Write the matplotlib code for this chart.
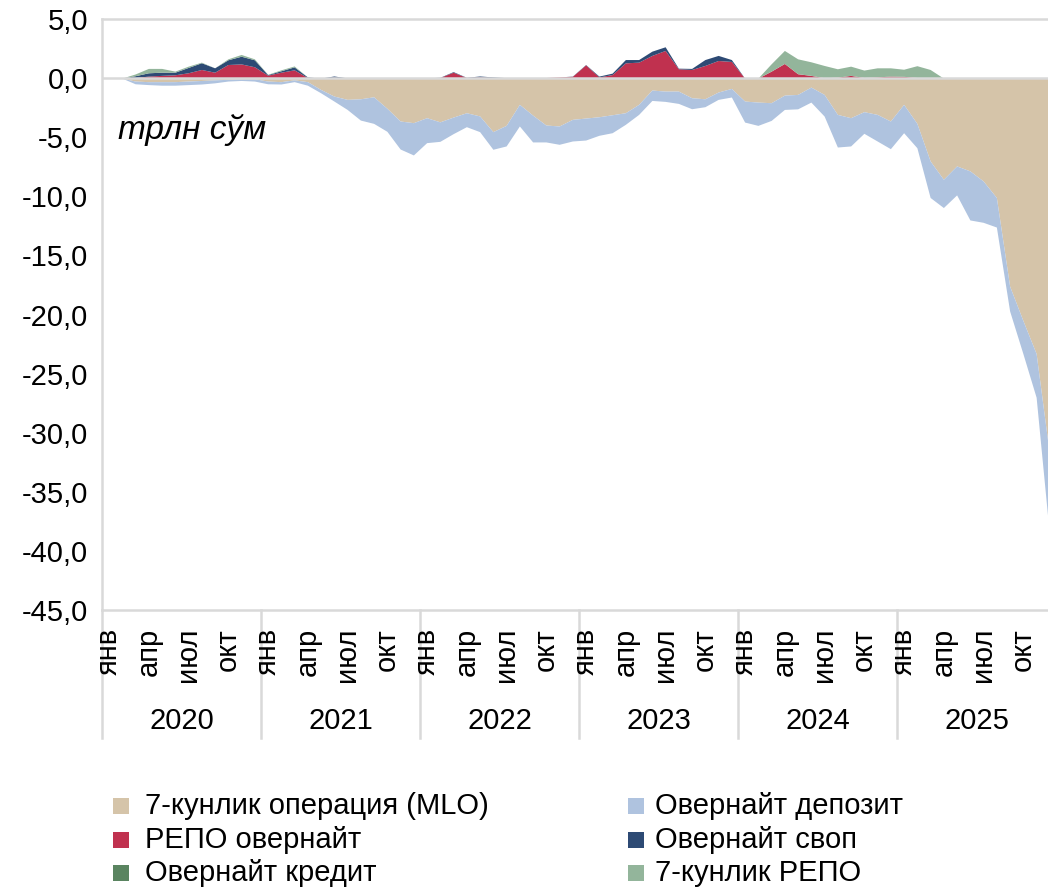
import numpy as np
import matplotlib
matplotlib.use('Agg')
import matplotlib.pyplot as plt
from matplotlib.patches import Rectangle
from matplotlib.transforms import blended_transform_factory

plt.rcParams['font.family'] = ['Liberation Sans', 'DejaVu Sans']

years = ['2020', '2021', '2022', '2023', '2024', '2025']
month_labels = ['янв', 'апр', 'июл', 'окт']
month_label_idx = [0, 3, 6, 9]
yticks = [5, 0, -5, -10, -15, -20, -25, -30, -35, -40, -45]
unit_label = 'трлн сўм'

series_names = ['7-кунлик операция (MLO)', 'Овернайт депозит', 'РЕПО овернайт',
                'Овернайт своп', 'Овернайт кредит', '7-кунлик РЕПО']

# monthly values, trillion soum (Jan 2020 .. Dec 2025)
mlo = [0, 0, -0.25, -0.3, -0.3, -0.3, -0.25, -0.2, -0.15, -0.1, -0.05, -0.05,
       -0.25, -0.3, -0.15, -0.3, -0.96, -1.52, -1.8, -1.75, -1.58, -2.55, -3.63, -3.77,
       -3.35, -3.7, -3.3, -2.93, -3.2, -4.53, -4.0, -2.22, -3.13, -3.97, -4.05, -3.49,
       -3.38, -3.27, -3.1, -2.93, -2.22, -1.01, -1.1, -1.1, -1.66, -1.75, -1.18, -0.87,
       -1.94, -2.03, -2.08, -1.44, -1.38, -0.76, -1.38, -3.07, -3.35, -2.84, -3.07, -3.63,
       -2.22, -3.83, -7.01, -8.56, -7.43, -7.85, -8.7, -10.1, -17.6, -20.5, -23.3, -31.8]

deposit = [0, 0, -0.23, -0.25, -0.3, -0.3, -0.3, -0.3, -0.25, -0.15, -0.15, -0.2,
           -0.23, -0.2, -0.15, -0.3, -0.28, -0.42, -0.85, -1.8, -2.25, -1.95, -2.37, -2.73,
           -2.11, -1.65, -1.4, -1.18, -1.33, -1.49, -1.74, -1.83, -2.27, -1.43, -1.55, -1.83,
           -1.86, -1.57, -1.52, -0.98, -0.85, -0.88, -0.87, -1.04, -0.93, -0.67, -0.62, -0.73,
           -1.78, -1.97, -1.5, -1.21, -1.22, -1.27, -1.83, -2.76, -2.39, -1.83, -2.25, -2.34,
           -2.4, -2.06, -3.09, -2.39, -2.45, -4.15, -3.5, -2.5, -2.1, -2.8, -3.7, -6.8]

repo_on = [0, 0, 0.05, 0.17, 0.23, 0.28, 0.45, 0.73, 0.5, 1.15, 1.2, 0.96,
           0.25, 0.5, 0.7, 0.05, 0, 0.08, 0.02, 0, 0, 0, 0, 0,
           0.02, 0.05, 0.5, 0.05, 0.1, 0.05, 0.02, 0, 0.02, 0.05, 0.1, 0.15,
           1.12, 0.1, 0.3, 1.29, 1.35, 1.92, 2.34, 0.79, 0.73, 1.07, 1.49, 1.41,
           0, 0, 0.59, 1.24, 0.37, 0.23, 0.03, 0.08, 0.23, 0.05, 0.1, 0.17,
           0.15, 0.05, 0, 0, 0.02, 0.02, 0, 0.02, 0.02, 0, 0, 0]

swap_on = [0, 0, 0.15, 0.28, 0.27, 0.22, 0.45, 0.57, 0.37, 0.4, 0.65, 0.59,
           0.05, 0.12, 0.25, 0.05, 0, 0.1, 0, 0, 0, 0, 0, 0,
           0, 0.02, 0.05, 0.02, 0.08, 0.05, 0.02, 0, 0, 0, 0, 0.02,
           0.03, 0.07, 0.12, 0.28, 0.22, 0.36, 0.31, 0.05, 0.09, 0.5, 0.43, 0.16,
           0, 0, 0, 0, 0, 0, 0, 0, 0, 0, 0, 0,
           0, 0, 0, 0, 0, 0, 0, 0, 0, 0, 0, 0]

credit_on = [0, 0, 0, 0, 0, 0, 0, 0, 0, 0, 0, 0,
             0, 0, 0, 0, 0, 0, 0, 0, 0, 0, 0, 0,
             0, 0, 0, 0, 0, 0, 0, 0, 0, 0, 0, 0,
             0, 0, 0, 0, 0, 0, 0, 0, 0, 0, 0, 0,
             0, 0, 0, 0, 0, 0, 0, 0, 0, 0, 0, 0,
             0, 0, 0, 0, 0, 0, 0, 0, 0, 0, 0, 0]

repo_7d = [0, 0, 0.15, 0.37, 0.32, 0.09, 0.11, 0.05, 0, 0.08, 0.15, 0.08,
           0.02, 0.08, 0.08, 0, 0, 0, 0, 0, 0, 0, 0, 0,
           0, 0, 0, 0, 0, 0, 0, 0, 0, 0, 0, 0,
           0, 0, 0, 0, 0, 0, 0, 0, 0, 0, 0, 0,
           0, 0, 0.62, 1.1, 1.26, 1.15, 1.04, 0.71, 0.78, 0.63, 0.77, 0.7,
           0.6, 1.0, 0.73, 0, 0, 0, 0, 0, 0, 0, 0, 0]

colors = ['#D5C4A9', '#AFC3DF', '#C0314F', '#2D4A74', '#5A8460', '#93B59B']
grid_col = '#D9D9D9'
FS = 21

W, H = 1048, 890
fig = plt.figure(figsize=(W / 100, H / 100), dpi=100)
ax_l, ax_r, ax_t, ax_b = 102, 1056, 19, 610
ax = fig.add_axes([ax_l / W, 1 - ax_b / H, (ax_r - ax_l) / W, (ax_b - ax_t) / H])

x = np.arange(len(mlo))

# negative stack
neg = [np.array(mlo), np.array(deposit)]
base = np.zeros(len(x))
for vals, col in zip(neg, colors[:2]):
    top = base + vals
    ax.fill_between(x, base, top, color=col, lw=0)
    base = top

# positive stack
pos = [np.array(repo_on), np.array(swap_on), np.array(credit_on), np.array(repo_7d)]
base = np.zeros(len(x))
for vals, col in zip(pos, colors[2:]):
    top = base + vals
    ax.fill_between(x, base, top, color=col, lw=0)
    base = top

ax.axhline(0, color=grid_col, lw=1.8, zorder=5)

ax.set_xlim(-0.5, len(x) - 0.5)
ax.set_ylim(-45, 5)
ax.set_yticks(yticks)
ax.set_yticklabels([f"{v:.1f}".replace('.', ',') for v in yticks], fontsize=FS)
ax.tick_params(axis='y', length=0, pad=10)
ax.set_xticks([])

for s in ['top', 'left', 'bottom']:
    ax.spines[s].set_color(grid_col)
    ax.spines[s].set_linewidth(1.8)
ax.spines['right'].set_visible(False)

tr = blended_transform_factory(ax.transData, ax.transAxes)
ax_h = ax_b - ax_t
sep_bottom = -(738 - ax_b) / ax_h
for k in range(len(years)):
    xs = k * 12 - 0.5
    ax.plot([xs, xs], [0, sep_bottom], transform=tr, color=grid_col, lw=1.8, clip_on=False)
    for mi, ml in zip(month_label_idx, month_labels):
        ax.text(k * 12 + mi, -(628 - ax_b) / ax_h, ml, transform=tr, rotation=90,
                ha='center', va='top', fontsize=FS)
    ax.text(k * 12 + 5.5, -(721 - ax_b) / ax_h, years[k], transform=tr,
            ha='center', va='center', fontsize=FS)

fig.text(118 / W, 1 - 130 / H, unit_label, fontsize=24, style='italic', va='center', ha='left')

# legend
rows = [806, 840, 873]
cols = [(113, 145), (628, 655)]
for n in range(len(series_names)):
    r, c = n // 2, n % 2
    px, tx = cols[c]
    ry = rows[r]
    fig.add_artist(Rectangle((px / W, 1 - (ry + 8) / H), 16 / W, 16 / H,
                             transform=fig.transFigure, color=colors[n], lw=0))
    fig.text(tx / W, 1 - ry / H, series_names[n], fontsize=FS, va='center', ha='left')

fig.savefig('out.png', dpi=100)
